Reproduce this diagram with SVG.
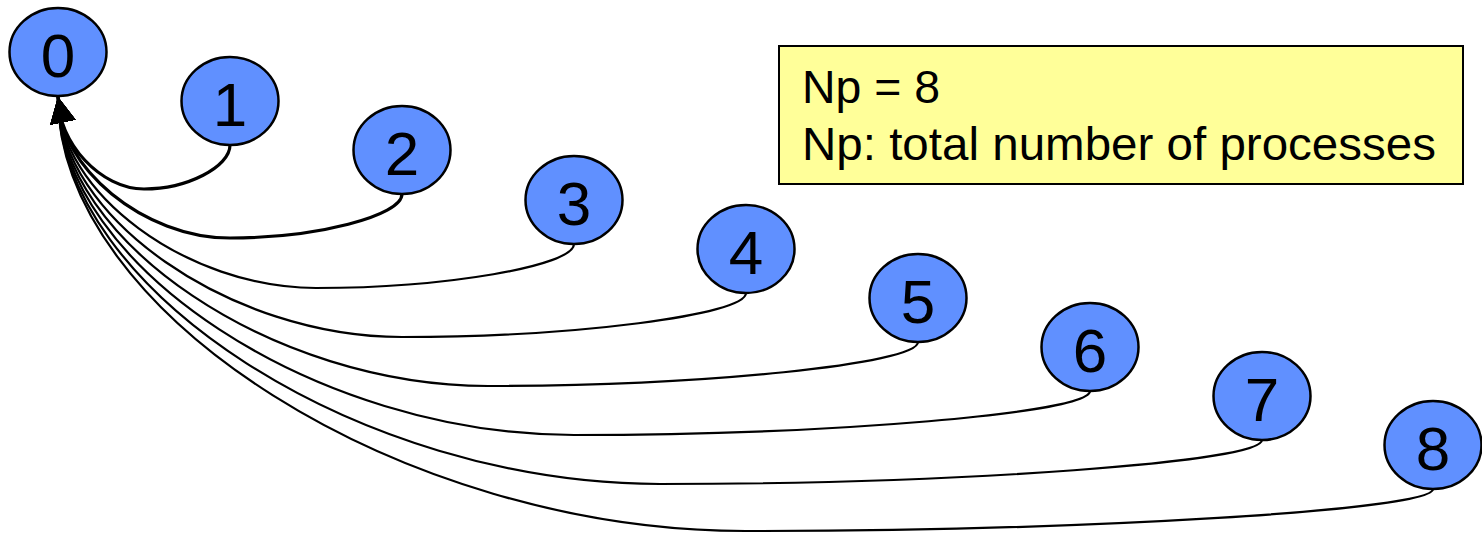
<svg xmlns="http://www.w3.org/2000/svg" width="1482" height="533" viewBox="0 0 1482 533">
  <style>
    .node ellipse { fill: #6090FF; stroke: #000; stroke-width: 2.5; }
    .node text { font-family: "Liberation Sans", Arial, sans-serif; font-size: 62px; text-anchor: middle; fill: #000; }
    .conn { fill: none; stroke: #000; stroke-width: 2.2; marker-end: url(#arrow); }
    .thick { stroke-width: 3.2; }
    .note rect { fill: #FFFF99; stroke: #000; stroke-width: 2; }
    .note text { font-family: "Liberation Sans", Arial, sans-serif; font-size: 47px; fill: #000; }
  </style>
  <defs>
    <marker id="arrow" markerUnits="userSpaceOnUse" markerWidth="26" markerHeight="26" viewBox="0 0 26 26" refX="26" refY="13" orient="259">
      <path d="M0,0 L26,13 L0,26 z" fill="#000"/>
    </marker>
  </defs>
  <rect width="1482" height="533" fill="#fff"/>
  <g id="connectors">
    <path class="conn thick" d="M230,145 C230,167 187,189 144,189 C101,189 58,143 58,97"/>
    <path class="conn thick" d="M402,194 C402,216 316,238 230,238 C144,238 58,167.5 58,97"/>
    <path class="conn" d="M574,244 C574,266 445,288 316,288 C187,288 58,192.5 58,97"/>
    <path class="conn" d="M746,293 C746,315 574,337 402,337 C230,337 58,217 58,97"/>
    <path class="conn" d="M918,342 C918,364 703,386 488,386 C273,386 58,241.5 58,97"/>
    <path class="conn" d="M1090,391 C1090,413 832,435 574,435 C316,435 58,266 58,97"/>
    <path class="conn" d="M1262,440 C1262,462 961,484 660,484 C359,484 58,290.5 58,97"/>
    <path class="conn" d="M1433,489 C1433,510 1089,531 745.5,531 C402,531 58,314 58,97"/>
  </g>
  <g id="node0" class="node"><ellipse cx="58" cy="52" rx="48.5" ry="44"/><text x="58" y="77">0</text></g>
  <g id="node1" class="node"><ellipse cx="230" cy="101" rx="48.5" ry="44"/><text x="230" y="126">1</text></g>
  <g id="node2" class="node"><ellipse cx="402" cy="150" rx="48.5" ry="44"/><text x="402" y="175">2</text></g>
  <g id="node3" class="node"><ellipse cx="574" cy="200" rx="48.5" ry="44"/><text x="574" y="225">3</text></g>
  <g id="node4" class="node"><ellipse cx="746" cy="249" rx="48.5" ry="44"/><text x="746" y="274">4</text></g>
  <g id="node5" class="node"><ellipse cx="918" cy="298" rx="48.5" ry="44"/><text x="918" y="323">5</text></g>
  <g id="node6" class="node"><ellipse cx="1090" cy="347" rx="48.5" ry="44"/><text x="1090" y="372">6</text></g>
  <g id="node7" class="node"><ellipse cx="1262" cy="396" rx="48.5" ry="44"/><text x="1262" y="421">7</text></g>
  <g id="node8" class="node"><ellipse cx="1433" cy="445" rx="48.5" ry="44"/><text x="1433" y="470">8</text></g>
  <g id="note" class="note">
    <rect x="779" y="46" width="684" height="138"/>
    <text x="802" y="102.5" textLength="138" lengthAdjust="spacingAndGlyphs">Np = 8</text>
    <text x="802" y="160" textLength="634" lengthAdjust="spacingAndGlyphs">Np: total number of processes</text>
  </g>
</svg>
